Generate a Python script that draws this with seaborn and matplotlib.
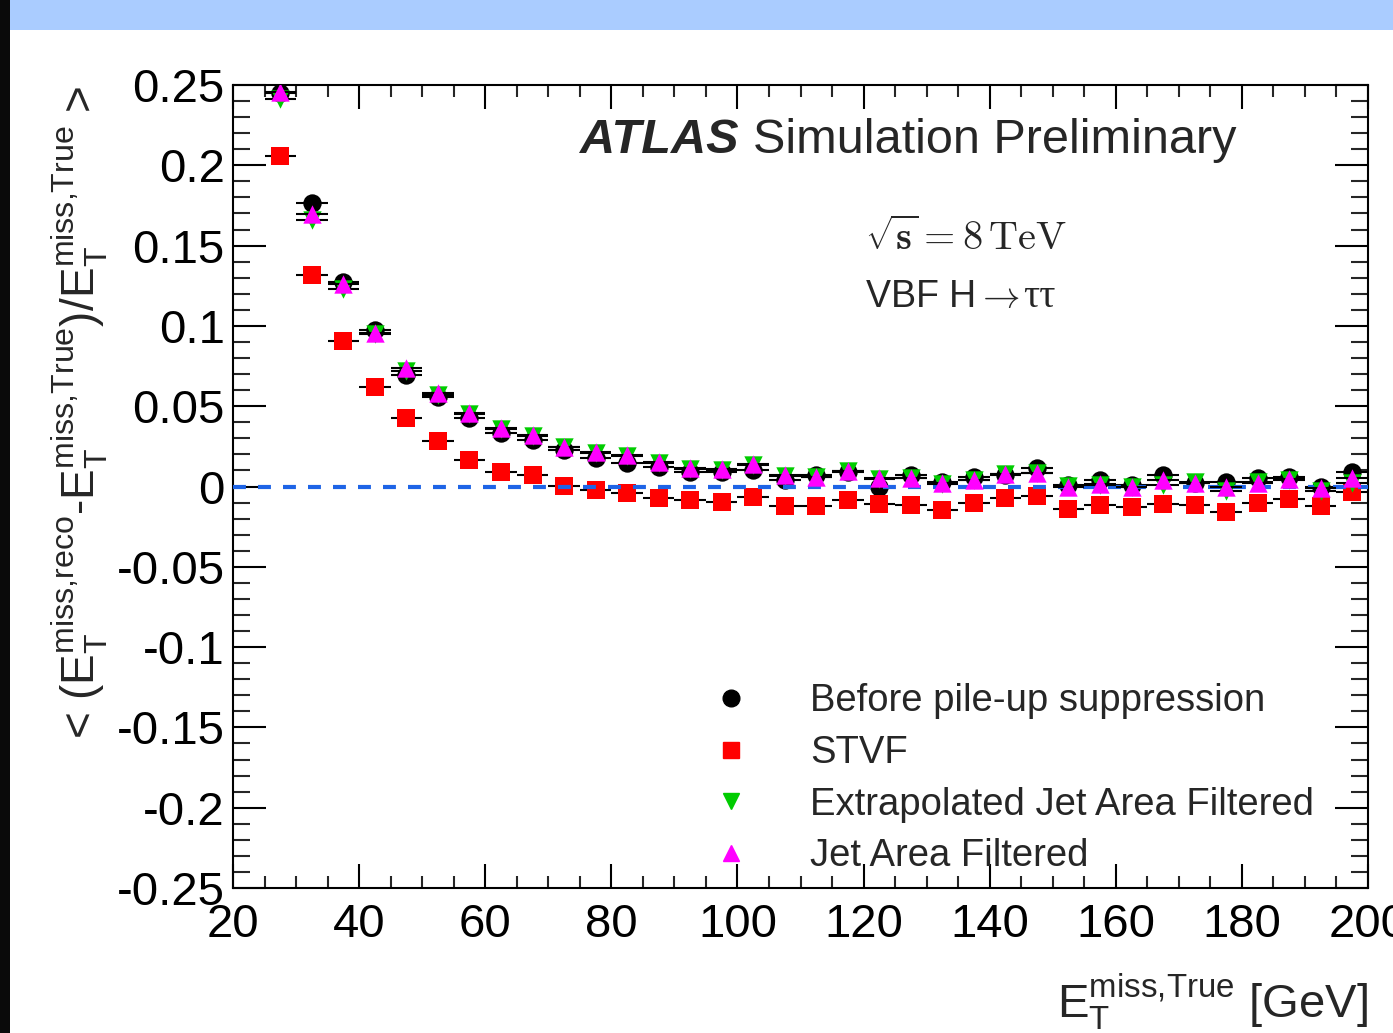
import numpy as np
import pandas as pd
import matplotlib
matplotlib.use("Agg")
import matplotlib.pyplot as plt
import seaborn as sns
from matplotlib.ticker import MultipleLocator, FuncFormatter
from matplotlib.lines import Line2D
from matplotlib.patches import Rectangle

# ---------------- data ----------------
met_true = [27.5, 32.5, 37.5, 42.5, 47.5, 52.5, 57.5, 62.5, 67.5, 72.5,
            77.5, 82.5, 87.5, 92.5, 97.5, 102.5, 107.5, 112.5, 117.5, 122.5,
            127.5, 132.5, 137.5, 142.5, 147.5, 152.5, 157.5, 162.5, 167.5, 172.5,
            177.5, 182.5, 187.5, 192.5, 197.5]
bin_half_width = 2.5

before_pu = [0.245, 0.1765, 0.1273, 0.0975, 0.0694, 0.0559, 0.0425, 0.0331, 0.029, 0.0227,
             0.0176, 0.0144, 0.0123, 0.0092, 0.0092, 0.0103, 0.004, 0.0072, 0.0092, -0.0001,
             0.0072, 0.003, 0.0061, 0.0072, 0.0113, 0.0009, 0.004, 0.0009, 0.0072, 0.002,
             0.003, 0.0051, 0.0061, -0.0005, 0.0092]
stvf = [0.2058, 0.1317, 0.0906, 0.062, 0.0425, 0.0285, 0.0163, 0.0092, 0.0072, 0.0003,
        -0.0022, -0.0038, -0.0074, -0.0084, -0.0098, -0.0063, -0.0121, -0.0121, -0.0084, -0.0109,
        -0.0115, -0.0146, -0.0105, -0.0074, -0.0057, -0.0142, -0.0115, -0.0126, -0.0111, -0.0117,
        -0.0157, -0.0105, -0.008, -0.0121, -0.0032]
extrap_jaf = [0.241, 0.166, 0.123, 0.095, 0.072, 0.057, 0.045, 0.0355, 0.0315, 0.0245,
              0.021, 0.019, 0.0148, 0.0112, 0.0105, 0.0135, 0.0068, 0.006, 0.0095, 0.0045,
              0.005, 0.0018, 0.0038, 0.0075, 0.0083, 0.0002, 0.0012, 0.0, 0.0008, 0.0025,
              -0.0025, 0.0025, 0.0042, -0.0025, 0.002]
jaf = [0.2456, 0.1697, 0.126, 0.0956, 0.0735, 0.0584, 0.0456, 0.0362, 0.032, 0.0248,
       0.0217, 0.0196, 0.0155, 0.0113, 0.0107, 0.014, 0.0072, 0.0061, 0.0098, 0.0051,
       0.0051, 0.002, 0.004, 0.0078, 0.0086, -0.0005, 0.0016, -0.0005, 0.004, 0.0024,
       -0.0005, 0.002, 0.0045, -0.0011, 0.0051]

labels = ["Before pile-up suppression", "STVF",
          "Extrapolated Jet Area Filtered", "Jet Area Filtered"]
x_ticks = [20, 40, 60, 80, 100, 120, 140, 160, 180, 200]

# ---------------- style ----------------
sns.set_theme(style="ticks")
plt.rcParams["font.family"] = ["Liberation Sans", "DejaVu Sans"]
plt.rcParams["mathtext.fontset"] = "custom"
plt.rcParams["mathtext.rm"] = "Liberation Sans"
plt.rcParams["mathtext.it"] = "Liberation Sans:italic"
plt.rcParams["mathtext.bf"] = "Liberation Sans:bold"
plt.rcParams["mathtext.sf"] = "Liberation Sans"

W, H = 1393, 1033
fig = plt.figure(figsize=(W / 100, H / 100), dpi=100)
fig.patch.set_facecolor("white")

def fx(px):
    return px / W

def fy(py):
    return 1 - py / H

# decoration bands
fig.patches.append(Rectangle((0, fy(30)), 1, 30 / H, transform=fig.transFigure,
                             facecolor="#aaccff", edgecolor="none", zorder=0))
fig.patches.append(Rectangle((0, 0), 10 / W, 1, transform=fig.transFigure,
                             facecolor="#0a0a0a", edgecolor="none", zorder=1))

ax = fig.add_axes([fx(233), fy(888), (1368 - 233) / W, (888 - 85) / H])
ax.set_facecolor("white")

series = [
    (before_pu, "o", "black", 3),
    (stvf, "s", "#ff0000", 4),
    (extrap_jaf, "v", "#00cc00", 6),
    (jaf, "^", "#ff00ff", 7),
]

for vals, mk, col, z in series:
    ax.errorbar(met_true, vals, xerr=bin_half_width, fmt="none", ecolor="black",
                elinewidth=1.5, capsize=0, zorder=z - 0.5)
    df = pd.DataFrame({"x": met_true, "y": vals})
    sns.scatterplot(data=df, x="x", y="y", marker=mk, color=col, s=175,
                    linewidth=0, ax=ax, zorder=z, legend=False)

ax.axhline(0, color="#1e64e6", lw=3, linestyle=(0, (3.1, 2.9)), zorder=5)

ax.set_xlim(20, 200)
ax.set_ylim(-0.25, 0.25)
ax.set_xticks(x_ticks)
ax.xaxis.set_minor_locator(MultipleLocator(5))
ax.yaxis.set_major_locator(MultipleLocator(0.05))
ax.yaxis.set_minor_locator(MultipleLocator(0.01))
ax.yaxis.set_major_formatter(FuncFormatter(lambda v, p: f"{round(v, 3):g}"))

for s in ax.spines.values():
    s.set_linewidth(1.5)
    s.set_color("black")
ax.tick_params(axis="x", which="major", direction="in", length=17, width=1.5,
               top=True, bottom=True, labelsize=34, pad=11, colors="black")
ax.tick_params(axis="x", which="minor", direction="in", length=8.5, width=1.5,
               top=True, bottom=True)
ax.tick_params(axis="y", which="major", direction="in", length=24, width=1.5,
               left=True, right=True, labelsize=34, pad=6, colors="black")
ax.tick_params(axis="y", which="minor", direction="in", length=12, width=1.5,
               left=True, right=True)

ax.set_xlabel(r"$\mathrm{E}_{\mathrm{T}}^{\mathrm{miss{,}True}}$ [GeV]", fontsize=34, loc="right")
ax.xaxis.set_label_coords(1.0, -0.104)
ax.set_ylabel(r"< $(\mathrm{E}_{\mathrm{T}}^{\mathrm{miss{,}reco}}$-$\mathrm{E}_{\mathrm{T}}^{\mathrm{miss{,}True}})/\mathrm{E}_{\mathrm{T}}^{\mathrm{miss{,}True}}$ >",
              fontsize=33, loc="top")
ax.yaxis.set_label_coords(-0.108, 1.0)

# legend
handles = [
    Line2D([], [], marker="o", color="black", ls="none", markersize=12),
    Line2D([], [], marker="s", color="#ff0000", ls="none", markersize=11),
    Line2D([], [], marker="v", color="#00cc00", ls="none", markersize=11),
    Line2D([], [], marker="^", color="#ff00ff", ls="none", markersize=11),
]
ax.legend(handles, labels, loc="upper left", bbox_to_anchor=(0.422, 0.255),
          frameon=False, fontsize=27.5, handlelength=1.0, handletextpad=1.57,
          labelspacing=0.41, borderpad=0, borderaxespad=0)

# texts
fig.text(fx(580), fy(153), "ATLAS", fontsize=35, fontweight="bold", fontstyle="italic",
         va="baseline", ha="left")
fig.text(fx(753), fy(153), "Simulation Preliminary", fontsize=35, va="baseline", ha="left")
fig.text(fx(865), fy(250), r"$\sqrt{\mathbf{s}} = \mathbf{8}\,\mathrm{TeV}$", fontsize=29,
         math_fontfamily="cm", va="baseline", ha="left")
fig.text(fx(865), fy(307), r"VBF H$\rightarrow$", fontsize=27,
         math_fontfamily="cm", va="baseline", ha="left")
fig.text(fx(1023), fy(307), "ττ", fontsize=29, family=["Liberation Serif", "DejaVu Serif"],
         va="baseline", ha="left")

fig.savefig("out.png", dpi=100)
